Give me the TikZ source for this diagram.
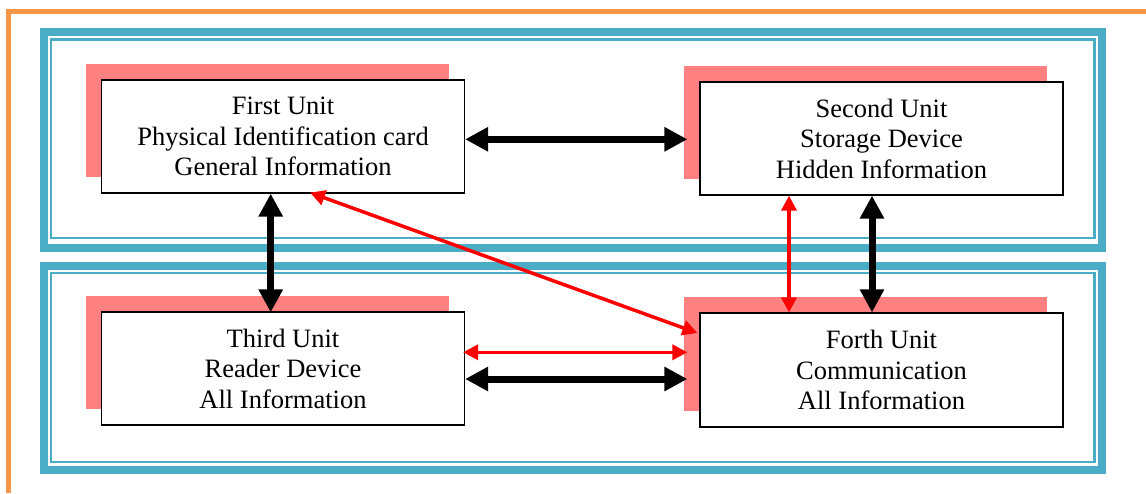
\documentclass[tikz,border=0pt]{standalone}
\usepackage{fontspec}
\setmainfont{Liberation Serif}
\usetikzlibrary{arrows.meta,shadows,calc}
\definecolor{frameorange}{HTML}{F79646}
\definecolor{groupblue}{HTML}{4BACC6}
\definecolor{shadowpink}{HTML}{FF8080}
\definecolor{linkred}{HTML}{FF0000}
\tikzset{
  unit/.style={draw=black, line width=1.2pt, fill=white,
    minimum width=363pt, minimum height=113pt, inner sep=0pt,
    align=center, font=\fontsize{26.5pt}{30.5pt}\selectfont,
    general shadow={fill=shadowpink, shadow xshift=-16pt, shadow yshift=16pt}},
  groupouter/.style={draw=groupblue, line width=8pt},
  groupinner/.style={draw=groupblue, line width=2.2pt},
  boldlink/.style={line width=7pt, black,
    {Triangle[length=23pt,width=23pt]}-{Triangle[length=23pt,width=23pt]}},
  redlink/.style={line width=3.5pt, linkred,
    {Triangle[length=15pt,width=15pt]}-{Triangle[length=15pt,width=15pt]}},
}
\begin{document}
\begin{tikzpicture}[x=1pt,y=-1pt]
\useasboundingbox (0,0) rectangle (1146,493);
% outer orange frame (only the top and left sides are on the page)
\draw[frameorange, line width=5pt] (8.5,493) -- (8.5,11.5) -- (1146,11.5);
% upper group
\draw[groupouter] (43.5,32.2) rectangle (1102,247.7);
\draw[groupinner] (51.2,39.5) rectangle (1094.5,238.3);
% lower group
\draw[groupouter] (43.5,265.8) rectangle (1102,469.9);
\draw[groupinner] (51.2,273.3) rectangle (1094.5,462);
% units
\node[unit] (n1) at (283,136.5) {First Unit\\Physical Identification card\\General Information};
\node[unit] (n2) at (881.5,138.5) {Second Unit\\Storage Device\\Hidden Information};
\node[unit] (n3) at (283,368.5) {Third Unit\\Reader Device\\All Information};
\node[unit, minimum height=114pt] (n4) at (881.5,370) {Forth Unit\\Communication\\All Information};
% links
\draw[boldlink] ($(n1.east)+(0,2.8)$) -- ($(n2.west)+(-12,0.8)$);
\draw[boldlink] ($(n1.south)+(-12.3,0)$) -- ($(n3.north)+(-12.3,1)$);
\draw[boldlink] ($(n2.south)+(-9.5,0)$) -- ($(n4.north)+(-9.5,0)$);
\draw[boldlink] ($(n3.east)+(0,10.5)$) -- ($(n4.west)+(-12,9)$);
\draw[redlink] ($(n2.south)+(-92.5,0)$) -- ($(n4.north)+(-92.5,0)$);
\draw[redlink] ($(n3.east)+(-2,-16.2)$) -- ($(n4.west)+(-12,-17.7)$);
\draw[redlink] ($(n1.south)+(27,-1)$) -- ($(n4.west)+(-2,-37)$);
\end{tikzpicture}
\end{document}
